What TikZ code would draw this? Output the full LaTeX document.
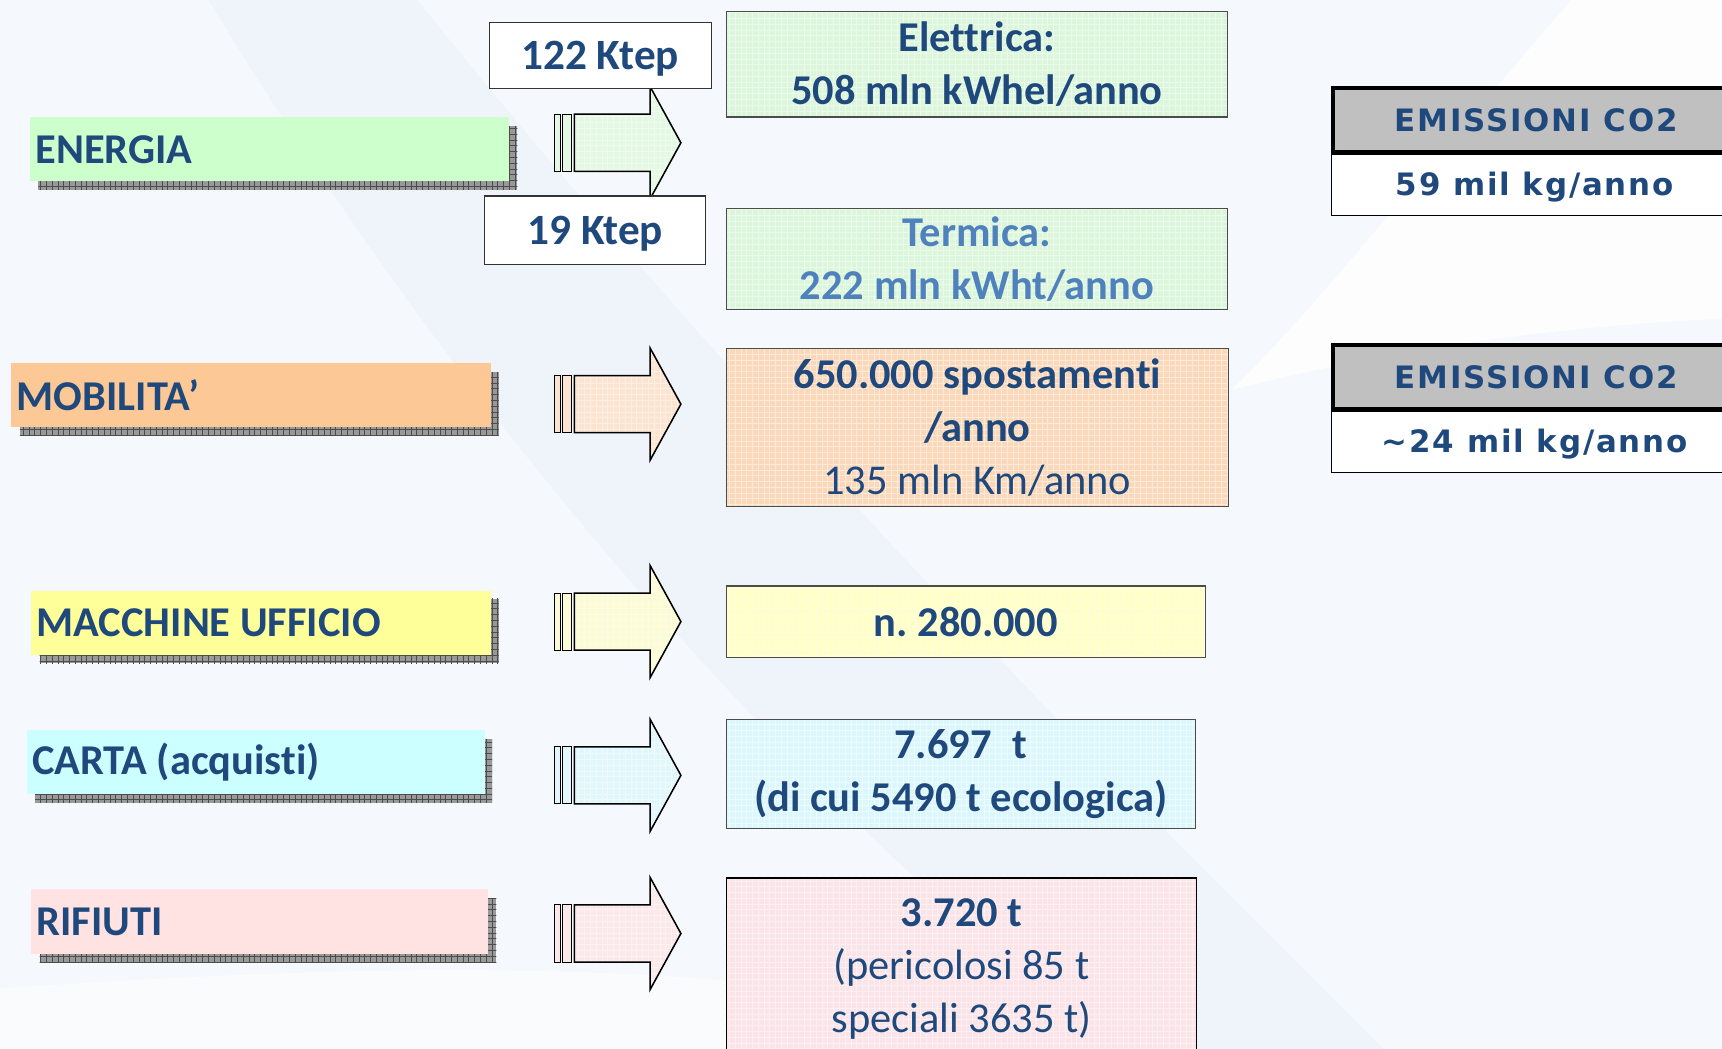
\documentclass[tikz,border=0pt]{standalone}
\usepackage{fontspec}
\setmainfont{Carlito}[Ligatures=NoCommon]
\newfontfamily\emfont[LetterSpace=6]{DejaVu Sans}
\usepackage{tikz}
\usetikzlibrary{patterns, calc}

\definecolor{txtblue}{RGB}{31,73,125}
\definecolor{termblue}{RGB}{79,129,189}
\definecolor{bgblue}{RGB}{245,248,252}
\definecolor{bandblue}{RGB}{239,243,250}
\definecolor{engreen}{RGB}{204,255,204}
\definecolor{mobor}{RGB}{252,200,150}
\definecolor{macyel}{RGB}{255,255,153}
\definecolor{cartcy}{RGB}{204,255,255}
\definecolor{rifpk}{RGB}{255,226,226}
\definecolor{enbox}{RGB}{220,246,220}
\definecolor{mobbox}{RGB}{251,216,186}
\definecolor{macbox}{RGB}{255,255,198}
\definecolor{cartbox}{RGB}{220,247,251}
\definecolor{rifbox}{RGB}{251,228,231}
\definecolor{enarr}{RGB}{228,249,228}
\definecolor{mobarr}{RGB}{252,228,208}
\definecolor{macarr}{RGB}{251,251,214}
\definecolor{cartarr}{RGB}{226,247,251}
\definecolor{rifarr}{RGB}{251,232,234}
\definecolor{emgray}{RGB}{192,192,192}

\tikzset{
	catbox/.style={fill=#1, anchor=west, align=flush left, inner xsep=0.1cm, minimum height=1.17cm, text=txtblue, font=\fontsize{22}{26}\selectfont\bfseries},
	shadowbox/.style={fill=black!40, postaction={pattern=grid, pattern color=black!70}},
	valbox/.style={preaction={fill=#1}, preaction={pattern=grid, pattern color=white!45!#1}, draw=black!70, line width=0.6pt, anchor=north west, align=center, text=txtblue, font=\fontsize{22}{27.5}\selectfont\bfseries},
	ktepbox/.style={fill=white, draw=black!80, line width=0.6pt, anchor=north west, text depth=0pt, text=txtblue, font=\fontsize{22.4}{26}\selectfont\bfseries},
	arrowfill/.style={preaction={fill=#1}, preaction={pattern=grid, pattern color=white!40!#1}, draw=black, line width=0.8pt, line join=miter},
	barfill/.style={fill=#1, draw=black, line width=0.5pt},
	emhead/.style={fill=emgray, draw=black, line width=0.08cm, anchor=north west, minimum width=7.4cm, minimum height=1.18cm, text=txtblue, font=\emfont\fontsize{16}{19}\selectfont\bfseries},
	emval/.style={fill=white, draw=black, line width=0.6pt, anchor=north west, minimum width=7.4cm, minimum height=1.18cm, text depth=0pt, text=txtblue, font=\emfont\fontsize{16}{19}\selectfont\bfseries}
}

% block arrow with two bars at the tail
\newcommand{\flowarrow}[2]{
	\draw[barfill=#2] (#1) +(0,-26) rectangle +(5,26);
	\draw[barfill=#2] (#1) +(7,-26) rectangle +(15,26);
	\draw[arrowfill=#2] (#1) +(18,-26) -- +(87,-26) -- +(87,-51) -- +(115,0) -- +(87,51) -- +(87,26) -- +(18,26) -- cycle;
}

\begin{document}
\begin{tikzpicture}[x=0.02cm, y=-0.02cm]
	\useasboundingbox (0,0) rectangle (1568,955);
	\clip (0,0) rectangle (1568,955);
	
	% background
	\fill[bgblue] (0,0) rectangle (1568,955);
	\fill[bandblue] (190,0) .. controls (420,380) and (700,700) .. (1010,955) -- (1260,955) .. controls (920,620) and (620,300) .. (380,0) -- cycle;
	\fill[white, opacity=0.5] (0,900) .. controls (300,880) and (700,860) .. (1000,955) -- (0,955) -- cycle;
	\fill[white, opacity=0.85] (1431,0) .. controls (1300,150) and (1200,280) .. (1121,355) .. controls (1300,310) and (1450,296) .. (1568,290) -- (1568,0) -- cycle;
	
	% left column
	\fill[shadowbox] (35,115) rectangle (471,173);
	\node[catbox=engreen, text width=8.52cm] (energia) at (27,136) {ENERGIA};
	
	\fill[shadowbox] (18,339) rectangle (454,397);
	\node[catbox=mobor, text width=8.54cm] (mobilita) at (10,360) {MOBILITA’};
	
	\fill[shadowbox] (36,545) rectangle (454,604);
	\node[catbox=macyel, text width=8.18cm] (macchine) at (28,567) {MACCHINE UFFICIO};
	
	\fill[shadowbox] (32,673) rectangle (448,731);
	\node[catbox=cartcy, text width=8.14cm] (carta) at (24,694) {CARTA (acquisti)};
	
	\fill[shadowbox] (36,818) rectangle (452,876);
	\node[catbox=rifpk, text width=8.12cm] (rifiuti) at (28,839) {RIFIUTI};
	
	% arrows
	\coordinate (arE) at (505,130);
	\coordinate (arM) at (505,368);
	\coordinate (arU) at (505,566);
	\coordinate (arC) at (505,706);
	\coordinate (arR) at (505,850);
	\flowarrow{arE}{enarr}
	\flowarrow{arM}{mobarr}
	\flowarrow{arU}{macarr}
	\flowarrow{arC}{cartarr}
	\flowarrow{arR}{rifarr}
	
	\node[ktepbox, minimum width=4.04cm, minimum height=1.2cm] (ktepA) at (445,20) {122 Ktep};
	\node[ktepbox, minimum width=4.02cm, minimum height=1.24cm] (ktepB) at (441,178) {19 Ktep};
	
	% right column
	\node[valbox=enbox, minimum width=9.12cm, minimum height=1.92cm] (elettrica) at (661,10) {Elettrica:\\508 mln kWhel/anno};
	\node[valbox=enbox, text=termblue, minimum width=9.12cm, minimum height=1.84cm] (termica) at (661,189) {Termica:\\222 mln kWht/anno};
	\node[valbox=mobbox, minimum width=9.14cm, minimum height=2.88cm] (spost) at (661,317) {650.000 spostamenti\\/anno\\{\mdseries 135 mln Km/anno}};
	\node[valbox=macbox, minimum width=8.72cm, minimum height=1.3cm] (numero) at (661,533) {n.\ 280.000};
	\node[valbox=cartbox, minimum width=8.54cm, minimum height=1.98cm] (tonn) at (661,655) {7.697\enspace t\\(di cui 5490 t ecologica)};
	\node[valbox=rifbox, draw=black, minimum width=8.56cm, minimum height=3.3cm] (rifval) at (661,799) {3.720 t\\{\mdseries (pericolosi 85 t}\\{\mdseries speciali 3635 t)}};
	
	% emissions
	\node[emval] (coA) at (1212,137) {59 mil kg/anno};
	\node[emhead] (emA) at (1212,78) {EMISSIONI CO2};
	\node[emval] (coB) at (1212,371) {\textasciitilde 24 mil kg/anno};
	\node[emhead] (emB) at (1212,312) {EMISSIONI CO2};
\end{tikzpicture}
\end{document}
